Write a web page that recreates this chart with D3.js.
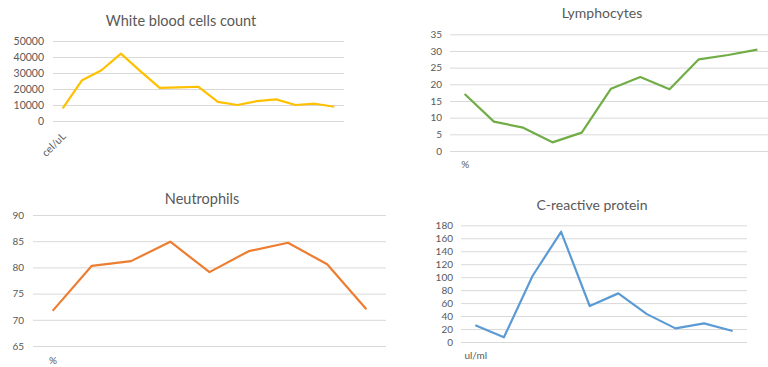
<!DOCTYPE html>
<html>
<head>
<meta charset="utf-8">
<script src="https://cdn.jsdelivr.net/npm/d3@7"></script>
<style>
  html, body { margin: 0; padding: 0; background: #fff; }
  svg { display: block; }
  .tick text { fill: #595959; }
</style>
</head>
<body>
<svg id="chart" width="768" height="367"></svg>
<script>
// White blood cells (cel/uL)
const wbcLabels = ["cel/uL", "", "", "", "", "", "", "", "", "", "", "", "", "", ""];
const wbcValues = [7900, 25500, 31700, 42100, 31200, 20700, 21000, 21400, 12000, 10000, 12400, 13500, 10000, 10800, 8900];
const wbcTicks = [0, 10000, 20000, 30000, 40000, 50000];

// Lymphocytes (%)
const lymLabels = ["%", "", "", "", "", "", "", "", "", "", ""];
const lymValues = [17.1, 8.8, 7.0, 2.6, 5.5, 18.7, 22.2, 18.5, 27.5, 28.8, 30.4];
const lymTicks = [0, 5, 10, 15, 20, 25, 30, 35];

// Neutrophils (%)
const neuLabels = ["%", "", "", "", "", "", "", "", ""];
const neuValues = [71.7, 80.3, 81.2, 84.9, 79.1, 83.1, 84.7, 80.6, 72.0];
const neuTicks = [65, 70, 75, 80, 85, 90];

// C-reactive protein (ul/ml)
const crpLabels = ["ul/ml", "", "", "", "", "", "", "", "", ""];
const crpValues = [25.7, 7.2, 101.8, 170, 55.5, 75, 43, 21, 28.8, 17];
const crpTicks = [0, 20, 40, 60, 80, 100, 120, 140, 160, 180];

const FONT = "Lato, 'Open Sans', sans-serif";
const svg = d3.select("#chart");

function drawPanel(opt) {
  const g = svg.append("g");
  const x = d3.scalePoint()
    .domain(d3.range(opt.values.length))
    .range([opt.left, opt.right])
    .padding(0.5);
  const y = d3.scaleLinear()
    .domain([opt.ticks[0], opt.ticks[opt.ticks.length - 1]])
    .range([opt.bottom, opt.top]);

  // value axis with gridlines
  const yAxis = g.append("g")
    .attr("transform", `translate(${opt.left},0)`)
    .call(d3.axisLeft(y).tickValues(opt.ticks).tickSize(-(opt.right - opt.left)).tickPadding(8).tickFormat(d3.format("d")));
  yAxis.select(".domain").remove();
  yAxis.selectAll(".tick line").attr("stroke", "#d9d9d9").attr("stroke-width", 1);
  yAxis.selectAll(".tick text")
    .attr("x", opt.labelRight - opt.left)
    .style("font-family", FONT).style("font-size", opt.tickSize + "px");

  // category axis (only the unit label is shown)
  const xAxis = g.append("g")
    .attr("transform", `translate(0,${opt.bottom})`)
    .call(d3.axisBottom(x).tickSize(0).tickPadding(opt.catPad).tickFormat(i => opt.labels[i]));
  xAxis.select(".domain").remove();
  xAxis.selectAll(".tick text")
    .style("font-family", FONT).style("font-size", opt.tickSize + "px");
  if (opt.rotate) {
    xAxis.selectAll(".tick text")
      .attr("text-anchor", "end")
      .attr("dy", "0.35em")
      .attr("transform", "rotate(-45)")
      .attr("y", 10).attr("x", -9);
  }

  const line = d3.line()
    .x((d, i) => x(i))
    .y(d => y(d));
  g.append("path")
    .datum(opt.values)
    .attr("fill", "none")
    .attr("stroke", opt.color)
    .attr("stroke-width", 2.2)
    .attr("stroke-linejoin", "round")
    .attr("d", line);

  g.append("text")
    .attr("x", opt.titleX)
    .attr("y", opt.titleY)
    .attr("text-anchor", "middle")
    .style("font-family", FONT)
    .style("font-size", opt.titleSize + "px")
    .attr("fill", "#595959")
    .text(opt.title);
}

drawPanel({
  title: "White blood cells count", titleX: 181, titleY: 26, titleSize: 14.5,
  labels: wbcLabels, values: wbcValues, ticks: wbcTicks, color: "#FFC000",
  left: 53, right: 344, top: 41, bottom: 121, labelRight: 44, tickSize: 10.5,
  catPad: 12, rotate: true
});

drawPanel({
  title: "Lymphocytes", titleX: 602, titleY: 18, titleSize: 14,
  labels: lymLabels, values: lymValues, ticks: lymTicks, color: "#70AD47",
  left: 450, right: 772, top: 34.3, bottom: 151, labelRight: 442, tickSize: 10,
  catPad: 10, rotate: false
});

drawPanel({
  title: "Neutrophils", titleX: 202, titleY: 204, titleSize: 14.5,
  labels: neuLabels, values: neuValues, ticks: neuTicks, color: "#ED7D31",
  left: 33, right: 386, top: 215, bottom: 346, labelRight: 24, tickSize: 10,
  catPad: 11, rotate: false
});

drawPanel({
  title: "C-reactive protein", titleX: 592, titleY: 210, titleSize: 14,
  labels: crpLabels, values: crpValues, ticks: crpTicks, color: "#5B9BD5",
  left: 461, right: 747, top: 225.3, bottom: 342, labelRight: 453, tickSize: 10,
  catPad: 10, rotate: false
});
</script>
</body>
</html>
